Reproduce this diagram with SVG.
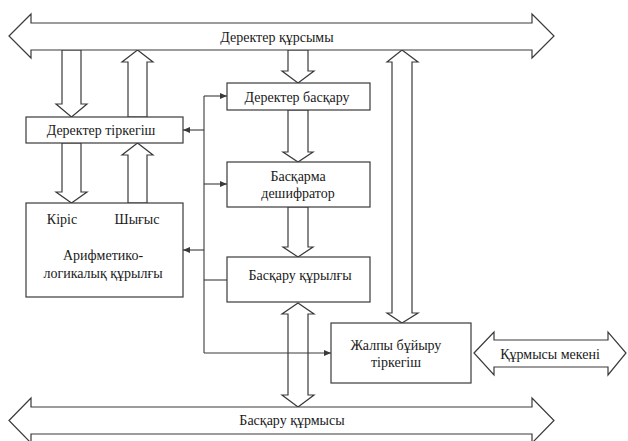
<svg xmlns="http://www.w3.org/2000/svg" width="628" height="441" viewBox="0 0 628 441">
<defs>
<style>
.s{fill:#fff;stroke:#3a3a3a;stroke-width:1.2;stroke-linejoin:miter}
.b{fill:#fff;stroke:#3a3a3a;stroke-width:1.2}
.l{fill:none;stroke:#3a3a3a;stroke-width:1.1}
.t{font-family:'Liberation Serif','Times New Roman',serif;font-size:14px;fill:#1a1a1a;text-anchor:middle;dominant-baseline:central}
</style>
<marker id="ah" markerWidth="8" markerHeight="6" refX="7" refY="3" orient="auto" markerUnits="userSpaceOnUse">
<path d="M0,0 L7,3 L0,6 Z" fill="#3a3a3a"/>
</marker>
</defs>
<rect width="628" height="441" fill="#fff"/>

<g id="connectors">
<polygon class="s" points="62,50 81,50 81,104 87,104 71.5,117 56,104 62,104"/>
<polygon class="s" points="137.5,50 153,62 147,62 147,117 128,117 128,62 122,62"/>
<polygon class="s" points="62,143 81,143 81,192 87,192 71.5,203 56,192 62,192"/>
<polygon class="s" points="137.5,143 153,155 147,155 147,203 128,203 128,155 122,155"/>
<polygon class="s" points="288,50 308,50 308,71 314,71 298,83 282,71 288,71"/>
<polygon class="s" points="288,110 308,110 308,152 313,152 298,162 283,152 288,152"/>
<polygon class="s" points="288,207 308,207 308,247 313,247 298,257 283,247 288,247"/>
<polygon class="s" points="298,303 314,314 308,314 308,395 314,395 298,407 282,395 288,395 288,314 282,314"/>
<polygon class="s" points="402,50 418,62 412,62 412,313 418,313 402,323 387,313 392,313 392,62 387,62"/>
<polyline class="l" points="204,96 204,353"/>
<line class="l" x1="204" y1="96" x2="227" y2="96" marker-end="url(#ah)"/>
<line class="l" x1="204" y1="130" x2="183" y2="130" marker-end="url(#ah)"/>
<line class="l" x1="204" y1="184" x2="227" y2="184" marker-end="url(#ah)"/>
<line class="l" x1="204" y1="250" x2="183" y2="250" marker-end="url(#ah)"/>
<line class="l" x1="204" y1="280" x2="227" y2="280"/>
<line class="l" x1="204" y1="353" x2="331" y2="353" marker-end="url(#ah)"/>
</g>

<g id="data-bus">
<polygon class="s" points="9,36 31,14 31,23 532,23 532,14 554,36 532,58 532,50 31,50 31,58"/>
<text class="t" x="277" y="37" font-family="Liberation Serif, serif">Деректер құрсымы</text>
</g>

<g id="control-bus">
<polygon class="s" points="9,420.5 31,398 31,407 532,407 532,398 554,420.5 532,443 532,434 31,434 31,443"/>
<text class="t" x="292" y="420" font-family="Liberation Serif, serif">Басқару құрмысы</text>
</g>

<g id="address-bus">
<polygon class="s" points="474,353 494,332 494,340 608,340 608,332 626,353 608,375 608,367 494,367 494,375"/>
<text class="t" x="550" y="354" font-family="Liberation Serif, serif">Құрмысы мекені</text>
</g>

<g id="data-register">
<rect class="b" x="26" y="117" width="157" height="26"/>
<text class="t" x="101" y="130" font-family="Liberation Serif, serif">Деректер тіркегіш</text>
</g>

<g id="data-control">
<rect class="b" x="227" y="83" width="143" height="27"/>
<text class="t" x="297" y="97" font-family="Liberation Serif, serif">Деректер басқару</text>
</g>

<g id="command-decoder">
<rect class="b" x="227" y="162" width="143" height="45"/>
<text class="t" x="298" y="176" font-family="Liberation Serif, serif">Басқарма</text>
<text class="t" x="298" y="193" font-family="Liberation Serif, serif">дешифратор</text>
</g>

<g id="control-unit">
<rect class="b" x="227" y="257" width="143" height="45"/>
<text class="t" x="300" y="275" font-family="Liberation Serif, serif">Басқару құрылғы</text>
</g>

<g id="alu">
<rect class="b" x="26" y="203" width="157" height="94"/>
<text class="t" x="62" y="219" font-family="Liberation Serif, serif">Кіріс</text>
<text class="t" x="137" y="219" font-family="Liberation Serif, serif">Шығыс</text>
<text class="t" x="103" y="255" font-family="Liberation Serif, serif">Арифметико-</text>
<text class="t" x="103" y="273" font-family="Liberation Serif, serif">логикалық құрылғы</text>
</g>

<g id="instruction-register">
<rect class="b" x="331" y="323" width="140" height="60"/>
<text class="t" x="396" y="345" font-family="Liberation Serif, serif">Жалпы бұйыру</text>
<text class="t" x="396" y="362" font-family="Liberation Serif, serif">тіркегіш</text>
</g>
</svg>
